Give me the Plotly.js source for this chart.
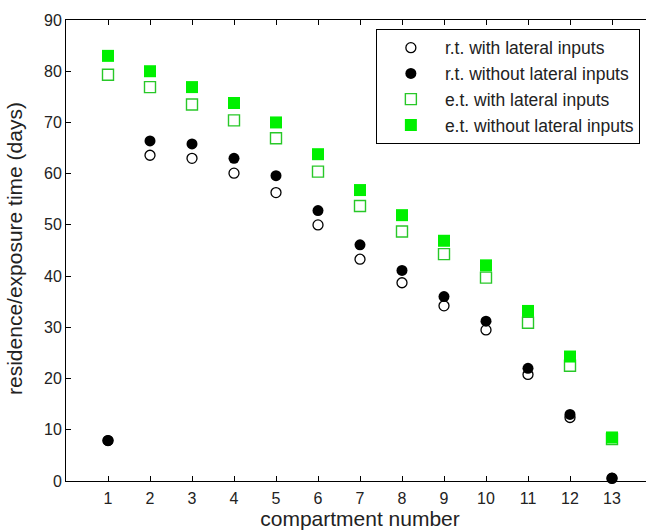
<!DOCTYPE html>
<html>
<head>
<meta charset="utf-8">
<script src="https://cdn.plot.ly/plotly-3.0.1.min.js"></script>
<style>html,body{margin:0;padding:0;background:#fff;overflow:hidden;width:646px;height:531px}</style>
</head>
<body>
<div id="chart" style="width:660px;height:531px"></div>
<script>
const compartments = [1,2,3,4,5,6,7,8,9,10,11,12,13];
const rtWith    = [7.9, 63.6, 63.0, 60.1, 56.3, 50.0, 43.3, 38.7, 34.2, 29.5, 20.8, 12.4, 0.5];
const rtWithout = [7.9, 66.4, 65.8, 63.0, 59.6, 52.8, 46.1, 41.1, 36.0, 31.2, 22.0, 13.0, 0.6];
const etWith    = [79.3, 76.9, 73.5, 70.4, 66.9, 60.4, 53.7, 48.7, 44.3, 39.7, 30.9, 22.5, 8.2];
const etWithout = [83.0, 80.0, 76.9, 73.8, 70.0, 63.8, 56.8, 51.9, 46.9, 42.1, 33.2, 24.3, 8.5];
const seriesNames = ['r.t. with lateral inputs','r.t. without lateral inputs','e.t. with lateral inputs','e.t. without lateral inputs'];
const xTicks = [1,2,3,4,5,6,7,8,9,10,11,12,13];
const yTicks = [0,10,20,30,40,50,60,70,80,90];
const xTitle = 'compartment number';
const yTitle = 'residence/exposure time (days)';

const traces = [
  {x: compartments, y: rtWith, name: seriesNames[0], legendgroup:'a',
   marker:{symbol:'circle-open', size:10, color:'#000', line:{width:1.3,color:'#000'}}},
  {x: compartments, y: rtWithout, name: seriesNames[1], legendgroup:'b',
   marker:{symbol:'circle', size:11, color:'#000'}},
  {x: compartments, y: etWith, name: seriesNames[2], legendgroup:'c',
   marker:{symbol:'square-open', size:11, color:'rgb(40,200,40)', line:{width:1.4,color:'rgb(40,200,40)'}}},
  {x: compartments, y: etWithout, name: seriesNames[3], legendgroup:'d',
   marker:{symbol:'square', size:12, color:'rgb(0,240,0)'}}
].map(t => Object.assign({type:'scatter', mode:'markers', cliponaxis:false}, t));

const font = {family:'Liberation Sans, Arial, sans-serif', color:'#222'};
const layout = {
  width:660, height:531,
  margin:{l:66, r:6, t:20, b:50},
  paper_bgcolor:'#fff', plot_bgcolor:'#fff',
  font: Object.assign({size:16}, font),
  showlegend:true,
  legend:{x:0.527, y:0.981, xanchor:'left', yanchor:'top',
    bgcolor:'#fff', bordercolor:'#000', borderwidth:1,
    font:Object.assign({size:17.5}, font), traceorder:'grouped', tracegroupgap:0,
    itemwidth:58},
  xaxis:{range:[0, 14], tickvals:xTicks, ticktext:xTicks.map(String),
    ticks:'inside', ticklen:5, tickcolor:'#000', showline:true, linecolor:'#000', linewidth:1,
    mirror:'ticks', showgrid:false, zeroline:false, ticklabelstandoff:3,
    tickfont:Object.assign({size:16}, font),
    title:{text:xTitle, font:Object.assign({size:21}, font), standoff:3}},
  yaxis:{range:[0, 90], tickvals:yTicks, ticktext:yTicks.map(String),
    ticks:'inside', ticklen:5, tickcolor:'#000', showline:true, linecolor:'#000', linewidth:1,
    showgrid:false, zeroline:false,
    tickfont:Object.assign({size:16}, font)},
  annotations:[{text:yTitle, textangle:-90, showarrow:false,
    xref:'paper', yref:'paper', x:(15-66)/588, y:(481-249)/461,
    xanchor:'center', yanchor:'middle', font:Object.assign({size:21}, font)}]
};
Plotly.newPlot('chart', traces, layout, {displayModeBar:false, staticPlot:true});
</script>
</body>
</html>
